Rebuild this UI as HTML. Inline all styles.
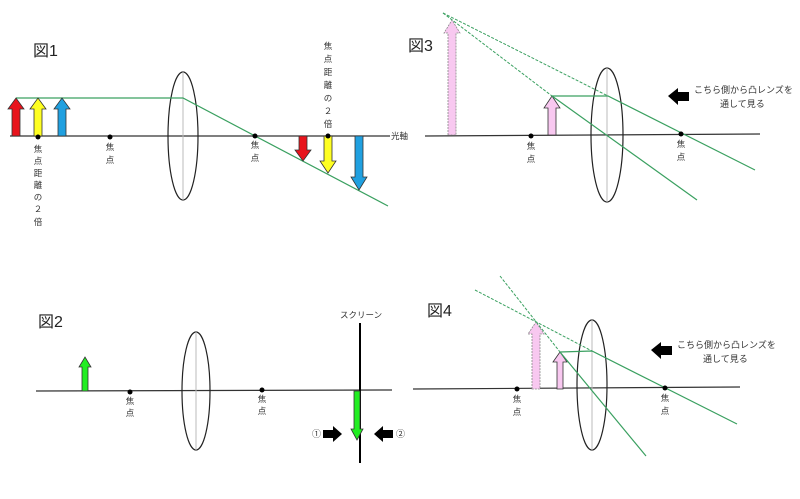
<!DOCTYPE html>
<html><head><meta charset="utf-8"><style>
html,body{margin:0;padding:0;background:#fff;}
svg{display:block;}
text{font-family:"Liberation Sans","Noto Sans CJK JP",sans-serif;fill:#333;}
.s{font-size:8.5px;}
.c{font-size:9px;}
.t{font-size:16px;fill:#222;}
</style></head><body>
<svg width="800" height="499" viewBox="0 0 800 499" xmlns="http://www.w3.org/2000/svg">
<!-- Figure 1 -->
<text class="t" x="33" y="56">図1</text>
<line x1="10" y1="136" x2="390" y2="136" stroke="#333" stroke-width="1.2"/>
<text class="s" x="391" y="139">光軸</text>
<ellipse cx="183" cy="136" rx="15" ry="64" fill="none" stroke="#222" stroke-width="1.2"/>
<line x1="183" y1="72" x2="183" y2="200" stroke="#bbb" stroke-width="1"/>
<polyline points="16,98 183,98 388,206" fill="none" stroke="#3aa060" stroke-width="1.2"/>
<polygon points="12,136 12,109 8,109 16,98 24,109 20,109 20,136" fill="#e8141c" stroke="#333" stroke-width=".8"/>
<polygon points="34,136 34,109 30,109 38,98 46,109 42,109 42,136" fill="#ffff22" stroke="#333" stroke-width=".8"/>
<polygon points="58,136 58,109 54,109 62,98 70,109 66,109 66,136" fill="#20a0e0" stroke="#333" stroke-width=".8"/>
<polygon points="299,136 299,150 295,150 303,161 311,150 307,150 307,136" fill="#e8141c" stroke="#333" stroke-width=".8"/>
<polygon points="324,136 324,161 320,161 328,173 336,161 332,161 332,136" fill="#ffff22" stroke="#333" stroke-width=".8"/>
<polygon points="355,136 355,177 351,177 359,190 367,177 363,177 363,136" fill="#20a0e0" stroke="#333" stroke-width=".8"/>
<circle cx="38" cy="137" r="2.5" fill="#000"/><circle cx="110" cy="137" r="2.5" fill="#000"/>
<circle cx="255" cy="136" r="2.5" fill="#000"/><circle cx="328" cy="136" r="2.5" fill="#000"/>
<g text-anchor="middle">
<text x="38" y="152" class="s">焦</text><text x="38" y="164" class="s">点</text><text x="38" y="176" class="s">距</text><text x="38" y="188" class="s">離</text><text x="38" y="200" class="s">の</text><text x="38" y="212" class="s">２</text><text x="38" y="225" class="s">倍</text>
<text x="110" y="150" class="s">焦</text><text x="110" y="163" class="s">点</text>
<text x="255" y="148" class="s">焦</text><text x="255" y="161" class="s">点</text>
<text x="328" y="49" class="s">焦</text><text x="328" y="62" class="s">点</text><text x="328" y="75" class="s">距</text><text x="328" y="88" class="s">離</text><text x="328" y="101" class="s">の</text><text x="328" y="114" class="s">２</text><text x="328" y="127" class="s">倍</text>
</g>
<!-- Figure 3 -->
<text class="t" x="408" y="51">図3</text>
<line x1="425" y1="136" x2="760" y2="134" stroke="#333" stroke-width="1.2"/>
<ellipse cx="607" cy="135" rx="16" ry="67" fill="none" stroke="#222" stroke-width="1.2"/>
<line x1="607" y1="68" x2="607" y2="202" stroke="#bbb" stroke-width="1"/>
<polygon points="448,135 448,33 444,33 452,20 460,33 456,33 456,135" fill="#f8c8f0" stroke="#888" stroke-width=".8" stroke-dasharray="2,1"/>
<polygon points="548,135 548,108 544,108 552,96 560,108 556,108 556,135" fill="#f8c8f0" stroke="#333" stroke-width=".8"/>
<line x1="443" y1="13" x2="608" y2="96" stroke="#3aa060" stroke-width="1" stroke-dasharray="3,1.5"/>
<line x1="443" y1="13" x2="552" y2="96" stroke="#3aa060" stroke-width="1" stroke-dasharray="3,1.5"/>
<polyline points="552,96 608,96 755,170" fill="none" stroke="#3aa060" stroke-width="1.2"/>
<line x1="552" y1="96" x2="697" y2="200" stroke="#3aa060" stroke-width="1.2"/>
<circle cx="531" cy="136" r="2.5" fill="#000"/><circle cx="681" cy="134" r="2.5" fill="#000"/>
<g text-anchor="middle"><text class="s" x="531" y="149">焦</text><text class="s" x="531" y="162">点</text>
<text class="s" x="681" y="147">焦</text><text class="s" x="681" y="160">点</text></g>
<polygon points="668,96 678,88 678,92 689,92 689,101 678,101 678,105" fill="#000"/>
<text class="c" x="694" y="93">こちら側から凸レンズを</text>
<text class="c" x="720" y="107">通して見る</text>
<!-- Figure 2 -->
<text class="t" x="38" y="327">図2</text>
<line x1="36" y1="391" x2="392" y2="390" stroke="#333" stroke-width="1.2"/>
<ellipse cx="196" cy="391" rx="14" ry="59" fill="none" stroke="#222" stroke-width="1.2"/>
<line x1="196" y1="332" x2="196" y2="450" stroke="#bbb" stroke-width="1"/>
<polygon points="82,391 82,367 79,367 85,357 91,367 88,367 88,391" fill="#22ee22" stroke="#333" stroke-width=".8"/>
<circle cx="130" cy="392" r="2.5" fill="#000"/><circle cx="262" cy="390" r="2.5" fill="#000"/>
<g text-anchor="middle"><text class="s" x="130" y="404">焦</text><text class="s" x="130" y="416">点</text>
<text class="s" x="262" y="402">焦</text><text class="s" x="262" y="414">点</text></g>
<line x1="360" y1="323" x2="360" y2="463" stroke="#000" stroke-width="2"/>
<text class="s" x="340" y="318">スクリーン</text>
<polygon points="354,391 354,429 351,429 357,440 363,429 360,429 360,391" fill="#22ee22" stroke="#333" stroke-width=".8"/>
<text class="s" x="312" y="437" style="font-size:9px">①</text>
<polygon points="323,430 333,430 333,426 342,434 333,442 333,438 323,438" fill="#000"/>
<polygon points="374,434 383,426 383,430 393,430 393,438 383,438 383,442" fill="#000"/>
<text class="s" x="396" y="437" style="font-size:9px">②</text>
<!-- Figure 4 -->
<text class="t" x="427" y="316">図4</text>
<line x1="413" y1="389" x2="740" y2="387" stroke="#333" stroke-width="1.2"/>
<ellipse cx="592" cy="385" rx="15" ry="65" fill="none" stroke="#222" stroke-width="1.2"/>
<line x1="592" y1="320" x2="592" y2="450" stroke="#bbb" stroke-width="1"/>
<polygon points="532,389 532,334 528,334 536,322 544,334 540,334 540,389" fill="#f8c8f0" stroke="#888" stroke-width=".8" stroke-dasharray="2,1"/>
<polygon points="557,389 557,362 553,362 560,352 567,362 563,362 563,389" fill="#f8c8f0" stroke="#333" stroke-width=".8"/>
<line x1="475" y1="290" x2="592" y2="351" stroke="#3aa060" stroke-width="1" stroke-dasharray="3,1.5"/>
<line x1="500" y1="276" x2="560" y2="352" stroke="#3aa060" stroke-width="1" stroke-dasharray="3,1.5"/>
<polyline points="560,352 592,351 737,424" fill="none" stroke="#3aa060" stroke-width="1.2"/>
<line x1="560" y1="352" x2="646" y2="456" stroke="#3aa060" stroke-width="1.2"/>
<circle cx="517" cy="389" r="2.5" fill="#000"/><circle cx="665" cy="388" r="2.5" fill="#000"/>
<g text-anchor="middle"><text class="s" x="517" y="402">焦</text><text class="s" x="517" y="415">点</text>
<text class="s" x="665" y="401">焦</text><text class="s" x="665" y="414">点</text></g>
<polygon points="651,350 661,342 661,346 672,346 672,355 661,355 661,359" fill="#000"/>
<text class="c" x="677" y="348">こちら側から凸レンズを</text>
<text class="c" x="703" y="362">通して見る</text>
</svg>
</body></html>
